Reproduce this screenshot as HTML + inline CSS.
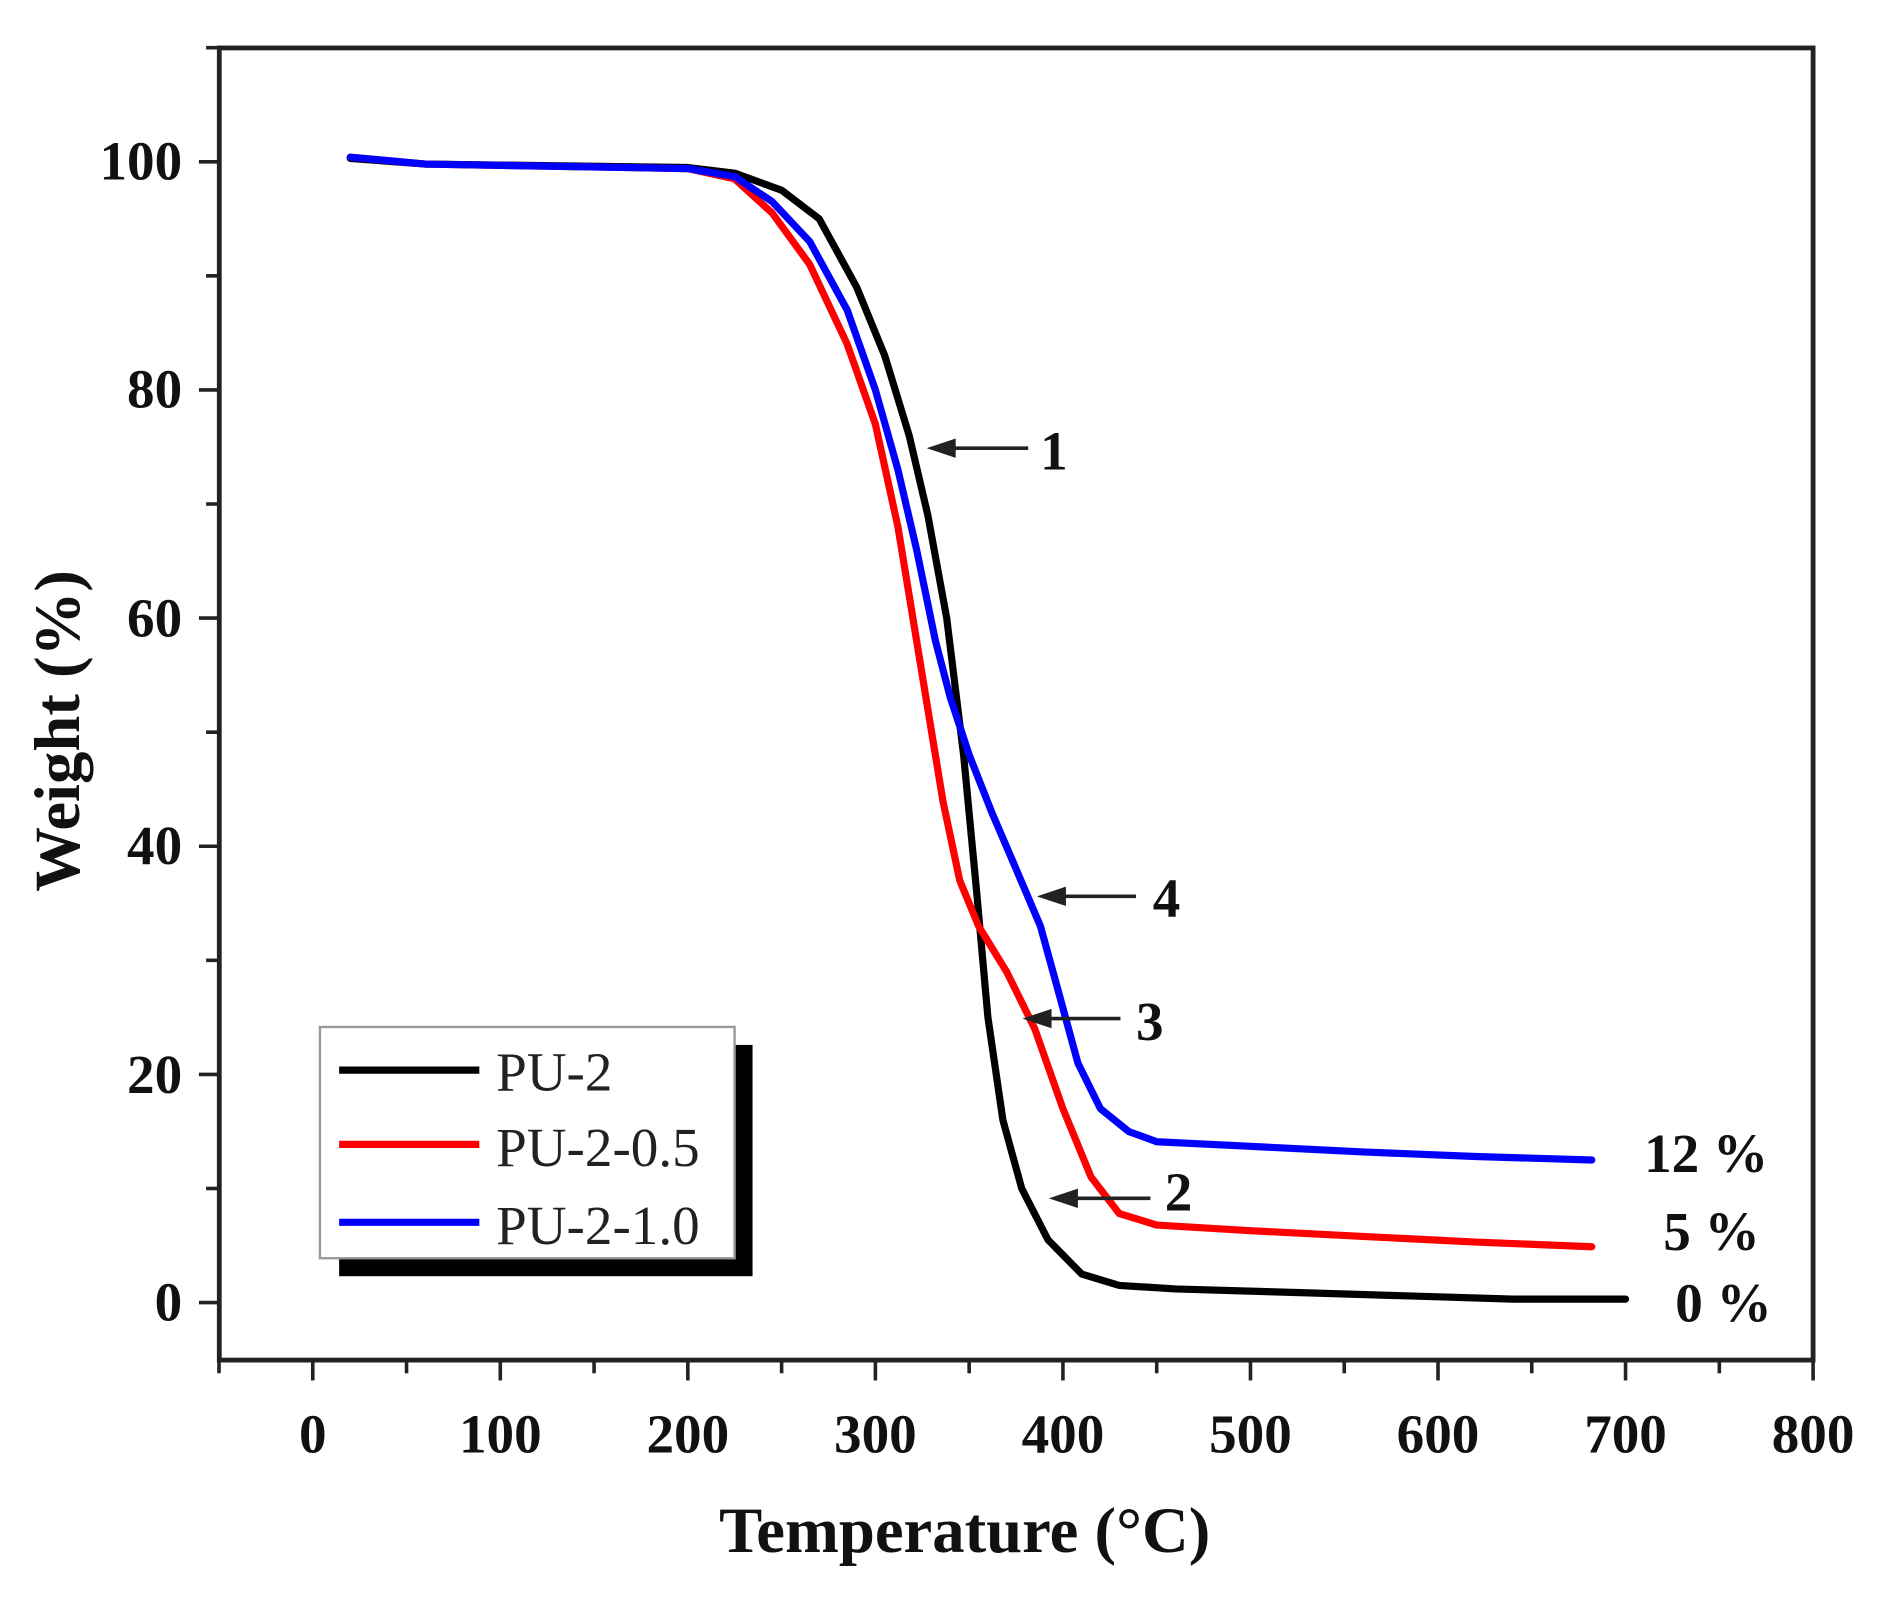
<!DOCTYPE html>
<html><head><meta charset="utf-8"><style>
html,body{margin:0;padding:0;background:#fff;}
svg{display:block;}
text{font-family:"Liberation Serif",serif;}
</style></head><body>
<svg width="1879" height="1597" viewBox="0 0 1568 1332.7" preserveAspectRatio="none" xmlns="http://www.w3.org/2000/svg">
<rect width="1568" height="1333" fill="#fff"/>
<g stroke="#222" stroke-width="3">
<line x1="182.75" y1="1135" x2="182.75" y2="1146"/>
<line x1="261" y1="1135" x2="261" y2="1152"/>
<line x1="339.25" y1="1135" x2="339.25" y2="1146"/>
<line x1="417.5" y1="1135" x2="417.5" y2="1152"/>
<line x1="495.75" y1="1135" x2="495.75" y2="1146"/>
<line x1="574" y1="1135" x2="574" y2="1152"/>
<line x1="652.25" y1="1135" x2="652.25" y2="1146"/>
<line x1="730.5" y1="1135" x2="730.5" y2="1152"/>
<line x1="808.75" y1="1135" x2="808.75" y2="1146"/>
<line x1="887" y1="1135" x2="887" y2="1152"/>
<line x1="965.25" y1="1135" x2="965.25" y2="1146"/>
<line x1="1043.5" y1="1135" x2="1043.5" y2="1152"/>
<line x1="1121.75" y1="1135" x2="1121.75" y2="1146"/>
<line x1="1200" y1="1135" x2="1200" y2="1152"/>
<line x1="1278.25" y1="1135" x2="1278.25" y2="1146"/>
<line x1="1356.5" y1="1135" x2="1356.5" y2="1152"/>
<line x1="1434.75" y1="1135" x2="1434.75" y2="1146"/>
<line x1="1513" y1="1135" x2="1513" y2="1152"/>
<line x1="166" y1="1087" x2="183" y2="1087"/>
<line x1="172" y1="991.8" x2="183" y2="991.8"/>
<line x1="166" y1="896.6" x2="183" y2="896.6"/>
<line x1="172" y1="801.4" x2="183" y2="801.4"/>
<line x1="166" y1="706.2" x2="183" y2="706.2"/>
<line x1="172" y1="611" x2="183" y2="611"/>
<line x1="166" y1="515.8" x2="183" y2="515.8"/>
<line x1="172" y1="420.6" x2="183" y2="420.6"/>
<line x1="166" y1="325.4" x2="183" y2="325.4"/>
<line x1="172" y1="230.2" x2="183" y2="230.2"/>
<line x1="166" y1="135" x2="183" y2="135"/>
<line x1="172" y1="39.8" x2="183" y2="39.8"/>
</g>
<rect x="183" y="40" width="1330" height="1095" fill="none" stroke="#222" stroke-width="4"/>
<g font-weight="bold" font-size="46" text-anchor="middle" fill="#111">
<text x="261" y="1212">0</text><text x="417.5" y="1212">100</text><text x="574" y="1212">200</text><text x="730.5" y="1212">300</text><text x="887" y="1212">400</text><text x="1043.5" y="1212">500</text><text x="1200" y="1212">600</text><text x="1356.5" y="1212">700</text><text x="1513" y="1212">800</text>
</g>
<g font-weight="bold" font-size="46" text-anchor="end" fill="#111">
<text x="152" y="1102">0</text><text x="152" y="912">20</text><text x="152" y="721">40</text><text x="152" y="531">60</text><text x="152" y="340">80</text><text x="152" y="150">100</text>
</g>
<text x="805" y="1295" font-size="54" font-weight="bold" text-anchor="middle" fill="#111">Temperature (°C)</text>
<text transform="translate(66,610) rotate(-90)" font-size="54" font-weight="bold" text-anchor="middle" fill="#111">Weight (%)</text>
<g fill="none" stroke-width="6" stroke-linejoin="round" stroke-linecap="round">
<polyline stroke="#000" points="292.3,132.2 354.9,136.9 574,139.8 613.1,144.5 652.3,158.8 683.6,182.6 714.9,239.7 738.3,296.8 758.7,363.5 774.3,430.1 790,515.8 804.1,630 815,744.3 824.4,849 836.9,934.7 852.6,991.8 874.5,1034.6 902.7,1063.2 934,1072.7 980.9,1075.6 1074.8,1078.4 1200,1082.2 1262.6,1084.1 1356.5,1084.1"/>
<polyline stroke="#f00" points="292.3,131.2 354.9,136.9 574,140.7 613.1,149.3 644.4,177.8 675.7,220.7 707,287.3 730.5,354 749.3,439.6 761.8,515.8 774.3,592 786.8,668.1 800.9,734.8 816.6,772.8 840,810.9 863.5,858.5 887,925.2 910.5,982.3 934,1012.7 965.3,1022.3 1043.5,1027 1137.4,1031.8 1231.3,1036.5 1328.3,1040.4"/>
<polyline stroke="#00f" points="292.3,131.2 354.9,136.9 574,140.7 613.1,147.4 644.4,168.3 675.7,201.6 707,258.8 730.5,325.4 749.3,392 764.9,458.7 780.6,534.8 793.1,582.4 808.8,630 827.5,677.6 847.9,725.2 868.2,772.8 883.9,829.9 899.5,887.1 918.3,925.2 941.8,944.2 965.3,952.8 1043.5,956.6 1137.4,961.3 1231.3,965.1 1328.3,968"/>
</g>
<g stroke="#222" stroke-width="3" fill="#222">
<line x1="858" y1="374" x2="788" y2="374"/><path d="M778 374 L796 368 L796 380Z"/>
<line x1="948" y1="748" x2="880" y2="748"/><path d="M870 748 L888 742 L888 754Z"/>
<line x1="935" y1="850" x2="868" y2="850"/><path d="M858 850 L876 844 L876 856Z"/>
<line x1="960" y1="1000" x2="890" y2="1000"/><path d="M880 1000 L898 994 L898 1006Z"/>
</g>
<g font-weight="bold" font-size="46" fill="#111">
<text x="868" y="392">1</text>
<text x="962" y="765">4</text>
<text x="948" y="868">3</text>
<text x="972" y="1010">2</text>
<text x="1372" y="978">12 %</text>
<text x="1388" y="1043">5 %</text>
<text x="1398" y="1103">0 %</text>
</g>
<rect x="283" y="872" width="345" height="193" fill="#000"/>
<rect x="267" y="857" width="346" height="193" fill="#fff" stroke="#999" stroke-width="2"/>
<line x1="283" y1="893" x2="400" y2="893" stroke="#000" stroke-width="6"/>
<line x1="283" y1="955" x2="400" y2="955" stroke="#f00" stroke-width="6"/>
<line x1="283" y1="1020" x2="400" y2="1020" stroke="#00f" stroke-width="6"/>
<g font-size="46" fill="#222">
<text x="414" y="910">PU-2</text>
<text x="414" y="973">PU-2-0.5</text>
<text x="414" y="1038">PU-2-1.0</text>
</g>
</svg>
</body></html>
